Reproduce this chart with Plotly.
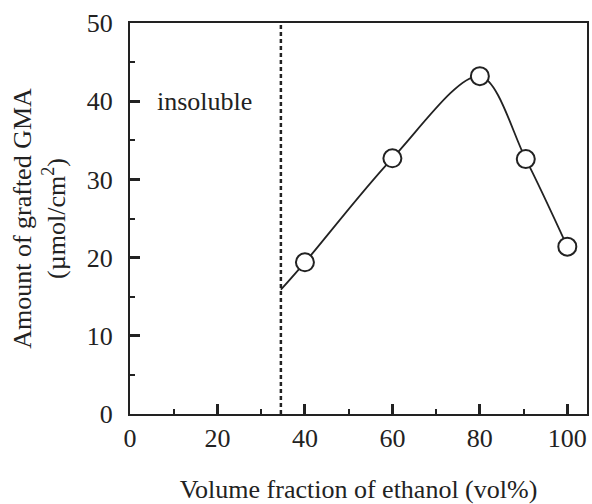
import plotly.graph_objects as go

# Data
ethanol = [40, 60, 80, 90.5, 100]
grafted_gma = [19.4, 32.7, 43.2, 32.6, 21.4]
curve_x = [34.5, 40, 60, 80, 90.5, 100]
curve_y = [15.9, 19.4, 32.7, 43.2, 32.6, 21.4]
boundary_x = 34.5
x_tick_step = 20
y_tick_step = 10

FONT = "Liberation Serif, Times New Roman, serif"
INK = "#222222"

fig = go.Figure()

fig.add_trace(go.Scatter(
    x=[boundary_x, boundary_x], y=[0, 50], mode="lines",
    line=dict(color=INK, width=2.5, dash="4px,3px"), showlegend=False, hoverinfo="skip"))

fig.add_trace(go.Scatter(
    x=curve_x, y=curve_y, mode="lines",
    line=dict(color=INK, width=1.8, shape="spline", smoothing=0.9),
    showlegend=False, hoverinfo="skip"))

fig.add_trace(go.Scatter(
    x=ethanol, y=grafted_gma, mode="markers",
    marker=dict(symbol="circle", size=18, color="white", line=dict(color=INK, width=2)),
    showlegend=False))

fig.add_annotation(x=17, y=40, xref="x", yref="y", text="insoluble", showarrow=False,
                   font=dict(family=FONT, size=26, color=INK))

axis_common = dict(
    showline=True, linecolor=INK, linewidth=2, mirror=True,
    ticks="inside", tickcolor=INK, tickwidth=2.5, ticklen=10,
    showgrid=False, zeroline=False, tick0=0,
    tickfont=dict(family=FONT, size=26, color=INK),
)

fig.update_xaxes(
    range=[0, 104.5], dtick=x_tick_step,
    minor=dict(dtick=x_tick_step / 2, ticks="inside", ticklen=5, tickwidth=2, tickcolor=INK),
    title=dict(text="Volume fraction of ethanol (vol%)", font=dict(family=FONT, size=26, color=INK), standoff=30),
    **axis_common)
fig.update_yaxes(
    range=[0, 50], dtick=y_tick_step,
    minor=dict(dtick=y_tick_step / 2, ticks="inside", ticklen=5, tickwidth=2, tickcolor=INK),
    ticklabelstandoff=10,
    title=dict(text="Amount of grafted GMA<br>(µmol/cm<sup>2</sup>)", font=dict(family=FONT, size=26, color=INK), standoff=14),
    **axis_common)

fig.update_layout(
    width=592, height=504,
    margin=dict(l=130, r=3, t=23, b=90),
    paper_bgcolor="white", plot_bgcolor="white",
    font=dict(family=FONT, color=INK),
)

fig.write_html("out.html")
